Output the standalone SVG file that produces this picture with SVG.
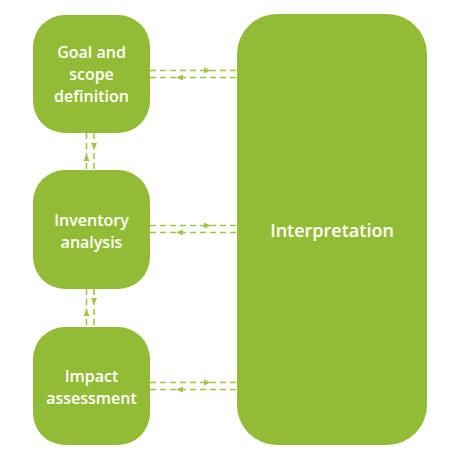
<svg xmlns="http://www.w3.org/2000/svg" width="460" height="460" viewBox="0 0 460 460">
<style>
.box{fill:#93bc36}
.lbl{fill:#fff;font-family:"Open Sans","Noto Sans","Liberation Sans",sans-serif;font-weight:600;font-size:16px;text-anchor:middle}
.big{font-size:18px}
.con{stroke:#9dc745;stroke-width:1.6;stroke-dasharray:6 4;fill:none}
.ah{fill:#9dc745}
</style>
<rect width="460" height="460" fill="#fff"/>
<g id="connectors">
<line class="con" x1="150" y1="70.5" x2="237" y2="70.5"/>
<line class="con" x1="150" y1="77.5" x2="237" y2="77.5"/>
<polygon class="ah" points="211,70.5 204,67.5 204,73.5"/>
<polygon class="ah" points="176,77.5 183,74.5 183,80.5"/>
<line class="con" x1="150" y1="225.5" x2="237" y2="225.5"/>
<line class="con" x1="150" y1="232.5" x2="237" y2="232.5"/>
<polygon class="ah" points="211,225.5 204,222.5 204,228.5"/>
<polygon class="ah" points="176,232.5 183,229.5 183,235.5"/>
<line class="con" x1="150" y1="382.5" x2="237" y2="382.5"/>
<line class="con" x1="150" y1="389.5" x2="237" y2="389.5"/>
<polygon class="ah" points="211,382.5 204,379.5 204,385.5"/>
<polygon class="ah" points="176,389.5 183,386.5 183,392.5"/>
<line class="con" x1="86.5" y1="133" x2="86.5" y2="170"/>
<line class="con" x1="94" y1="133" x2="94" y2="170"/>
<polygon class="ah" points="94,150 91,143 97,143"/>
<polygon class="ah" points="86.5,154 83.5,161 89.5,161"/>
<line class="con" x1="86.5" y1="289" x2="86.5" y2="327"/>
<line class="con" x1="94" y1="289" x2="94" y2="327"/>
<polygon class="ah" points="94,305 91,298 97,298"/>
<polygon class="ah" points="86.5,309 83.5,316 89.5,316"/>
</g>
<g id="goal">
<rect class="box" x="33" y="15" width="117" height="118" rx="32"/>
<text class="lbl" x="91.5" y="57.5">Goal and</text>
<text class="lbl" x="91.5" y="79.5">scope</text>
<text class="lbl" x="91.5" y="101.5">definition</text>
</g>
<g id="inventory">
<rect class="box" x="33" y="170" width="117" height="119" rx="32"/>
<text class="lbl" x="91.5" y="225.5">Inventory</text>
<text class="lbl" x="91.5" y="247.5">analysis</text>
</g>
<g id="impact">
<rect class="box" x="33" y="327" width="117" height="118" rx="32"/>
<text class="lbl" x="91.5" y="381.5">Impact</text>
<text class="lbl" x="91.5" y="403.5">assessment</text>
</g>
<g id="interpretation">
<rect class="box" x="237" y="14" width="190" height="431" rx="40"/>
<text class="lbl big" x="332" y="236.5">Interpretation</text>
</g>
</svg>
